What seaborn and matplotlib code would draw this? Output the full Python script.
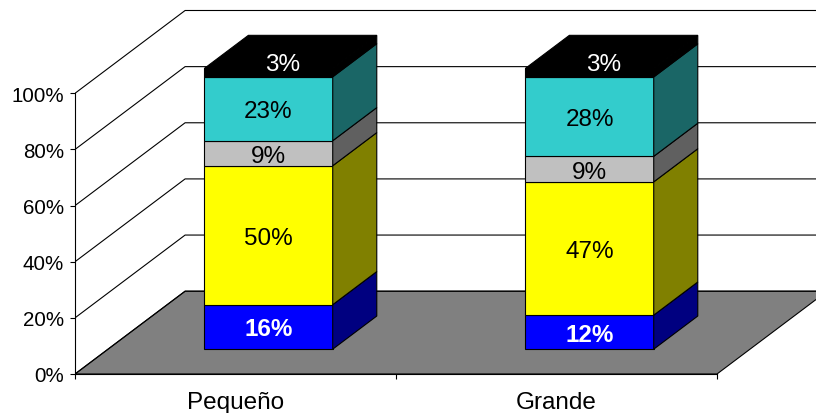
import numpy as np
import pandas as pd
import matplotlib.pyplot as plt
import matplotlib.ticker as mtick
from matplotlib.patches import Polygon
import seaborn as sns


# data (percent labels per segment, bottom to top)
categories = ['Pequeño', 'Grande']
azul = [16, 12]
amarillo = [50, 47]
gris = [9, 9]
turquesa = [23, 28]
negro = [3, 3]

serie_vals = [azul, amarillo, gris, turquesa, negro]
frente = ['#0000FF', '#FFFF00', '#C0C0C0', '#33CCCC', '#000000']
lado = ['#000080', '#808000', '#606060', '#1A6666', '#000000']
txt_color = ['white', 'black', 'black', 'black', 'white']
txt_weight = ['bold', 'normal', 'normal', 'normal', 'normal']

sns.set_theme(style='white')
plt.rcParams['font.family'] = ['Liberation Sans', 'DejaVu Sans']

# fake 3d look
DX = 0.343   # depth shift, category units
DY = 29.5    # depth shift, percent units
F = 0.3      # where the bar front sits (fraction of full depth)
DZ = 0.4     # bar depth (fraction of full depth)
W = 0.4      # bar width
LW = 0.8
HALF_CAP = 3.0  # half the digit height, in percent units (for centring labels)

fig = plt.figure(figsize=(8.16, 4.14), dpi=100)
ax = fig.add_axes([75 / 816, 39 / 414, 741 / 816, 375 / 414])

vals = np.array(serie_vals, dtype=float)
pct = vals / vals.sum(axis=0) * 100
bottoms = np.vstack([np.zeros(len(categories)), np.cumsum(pct, axis=0)[:-1]])
y0 = F * DY

x_left = -0.5 - F * DX
x_right = len(categories) - 0.5 - F * DX

# floor
ax.add_patch(Polygon([(x_left, 0), (x_right, 0), (x_right + DX, DY), (x_left + DX, DY)],
                     closed=True, facecolor='#808080', edgecolor='black', lw=LW, zorder=1))

# wall gridlines
for v in range(0, 101, 20):
    ax.plot([x_left, x_left + DX, x_right + 2], [v, v + DY, v + DY],
            color='black', lw=LW, zorder=2)

# front faces, one seaborn call per stacked segment
for k in range(len(serie_vals)):
    df = pd.DataFrame({'cat': categories, 'pct': pct[k]})
    sns.barplot(data=df, x='cat', y='pct', color=frente[k], width=W,
                bottom=bottoms[k] + y0, errorbar=None, saturation=1,
                edgecolor='black', linewidth=LW, zorder=3, ax=ax)

# side faces and top
for i in range(len(categories)):
    xl = i - W / 2
    xr = i + W / 2
    for k in range(len(serie_vals)):
        b = bottoms[k][i] + y0
        t = b + pct[k][i]
        ax.add_patch(Polygon([(xr, b), (xr + DZ * DX, b + DZ * DY),
                              (xr + DZ * DX, t + DZ * DY), (xr, t)],
                             facecolor=lado[k], edgecolor='black', lw=LW, zorder=3))
    top = bottoms[-1][i] + pct[-1][i] + y0
    ax.add_patch(Polygon([(xl, top), (xl + DZ * DX, top + DZ * DY),
                          (xr + DZ * DX, top + DZ * DY), (xr, top)],
                         facecolor=frente[-1], edgecolor='black', lw=LW, zorder=3))

# labels
for k in range(len(serie_vals)):
    for i in range(len(categories)):
        xc = i
        yc = bottoms[k][i] + y0 + pct[k][i] / 2
        if k == len(serie_vals) - 1:
            xc += 0.33 * DZ * DX
            yc += 0.33 * DZ * DY
        ax.text(xc, yc - HALF_CAP, f'{serie_vals[k][i]}%', ha='center', va='baseline',
                fontsize=17.5, color=txt_color[k], weight=txt_weight[k], zorder=5)

ax.set_xlim(x_left, x_left + 741 / 321)
ax.set_ylim(0, 375 / 2.807)
ax.grid(False)
ax.set_xlabel('')
ax.set_ylabel('')

for s in ['top', 'right']:
    ax.spines[s].set_visible(False)
ax.spines['left'].set_bounds(0, 100)
ax.spines['bottom'].set_bounds(x_left, x_right)
for s in ['left', 'bottom']:
    ax.spines[s].set_color('black')
    ax.spines[s].set_linewidth(LW)

ax.set_yticks(range(0, 101, 20))
ax.yaxis.set_major_formatter(mtick.PercentFormatter(decimals=0))
ax.set_xticks([x_left + j for j in range(len(categories) + 1)])
ax.set_xticklabels([''] * (len(categories) + 1))
ax.set_xticks([j - F * DX for j in range(len(categories))], minor=True)
ax.set_xticklabels(categories, minor=True)

ax.tick_params(axis='y', left=True, length=3.6, width=LW, color='black',
               labelsize=14.8, pad=4.3, labelcolor='black')
ax.tick_params(axis='x', which='major', bottom=True, length=3.6, width=LW, color='black')
ax.tick_params(axis='x', which='minor', bottom=True, length=0, labelsize=17.5,
               pad=12, labelcolor='black')

fig.savefig('out.png', dpi=100)
